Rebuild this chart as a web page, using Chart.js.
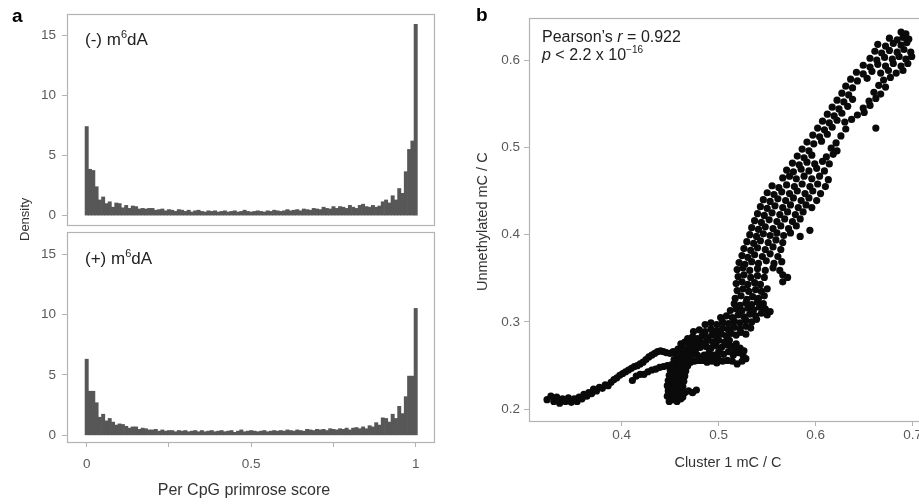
<!DOCTYPE html>
<html>
<head>
<meta charset="utf-8">
<script src="https://cdn.jsdelivr.net/npm/chart.js@4.4.1/dist/chart.umd.min.js"></script>
<style>
  html, body { margin: 0; padding: 0; background: #fff; width: 919px; height: 504px; overflow: hidden; }
  body { position: relative; font-family: "Liberation Sans", Arial, sans-serif; }
  canvas { position: absolute; }
  .t { position: absolute; white-space: nowrap; line-height: 1; color: #222; }
  .panel { font-weight: bold; font-size: 19px; color: #000; }
  .facet { font-size: 17px; }
  .facet sup { font-size: 11px; vertical-align: 7px; }
  .note { font-size: 16px; }
  .note sup { font-size: 10px; vertical-align: 7px; }
  .axt { font-size: 14.5px; color: #333; }
  .rot { transform-origin: 0 0; transform: rotate(-90deg); }
</style>
</head>
<body>
<canvas id="histTop" width="440" height="240" style="left:0;top:0"></canvas>
<canvas id="histBottom" width="440" height="260" style="left:0;top:216px"></canvas>
<canvas id="scatter" width="460" height="504" style="left:470px;top:0"></canvas>

<div class="t panel" style="left:12px;top:6px">a</div>
<div class="t panel" style="left:476px;top:5px">b</div>
<div class="t facet" style="left:85px;top:29px">(-) m<sup>6</sup>dA</div>
<div class="t facet" style="left:85px;top:248px">(+) m<sup>6</sup>dA</div>
<div class="t axt rot" style="left:18px;top:241px;font-size:13px">Density</div>
<div class="t axt" style="left:244px;top:482px;font-size:16px;transform:translateX(-50%)">Per CpG primrose score</div>
<div class="t note" style="left:542px;top:29px">Pearson’s <i>r</i> = 0.922</div>
<div class="t note" style="left:542px;top:45px"><i>p</i> &lt; 2.2 x 10<sup>−16</sup></div>
<div class="t axt rot" style="left:475px;top:291px">Unmethylated mC / C</div>
<div class="t axt" style="left:728px;top:455px;transform:translateX(-50%)">Cluster 1 mC / C</div>

<script>
// histogram bins (width 0.01), densities read per bin
const binMids = Array.from({ length: 101 }, (_, i) => i / 100);

const densityMinus = [
  7.4, 3.85, 3.75, 2.4, 1.3, 1.55, 1.0, 1.15, 0.7, 1.05,
  1.0, 0.65, 0.85, 0.6, 0.8, 0.75, 0.55, 0.6, 0.55, 0.6,
  0.6, 0.45, 0.5, 0.55, 0.4, 0.5, 0.45, 0.35, 0.5, 0.45,
  0.35, 0.45, 0.3, 0.4, 0.45, 0.35, 0.3, 0.4, 0.35, 0.4,
  0.3, 0.35, 0.4, 0.3, 0.35, 0.4, 0.3, 0.35, 0.45, 0.35,
  0.3, 0.35, 0.4, 0.35, 0.3, 0.4, 0.35, 0.45, 0.4, 0.35,
  0.4, 0.5, 0.4, 0.45, 0.5, 0.4, 0.55, 0.5, 0.45, 0.6,
  0.55, 0.5, 0.7, 0.6, 0.55, 0.75, 0.6, 0.75, 0.7, 0.6,
  0.85, 0.7, 0.6, 0.85, 0.95, 0.75, 0.7, 0.85, 0.7, 0.8,
  1.15, 1.3, 1.05, 1.65, 1.3, 2.25, 1.85, 3.65, 5.5, 6.2,
  15.9
];

const densityPlus = [
  6.3, 3.65, 3.65, 2.7, 1.5, 1.75, 1.2, 1.4, 1.1, 0.85,
  0.95, 0.9, 0.75, 0.6, 0.7, 0.7, 0.5, 0.6, 0.55, 0.45,
  0.45, 0.5, 0.35, 0.45, 0.35, 0.4, 0.4, 0.3, 0.4, 0.35,
  0.4, 0.3, 0.35, 0.4, 0.3, 0.4, 0.3, 0.35, 0.4, 0.3,
  0.35, 0.4, 0.3, 0.35, 0.4, 0.25, 0.35, 0.45, 0.3, 0.35,
  0.4, 0.35, 0.3, 0.35, 0.4, 0.3, 0.35, 0.4, 0.35, 0.4,
  0.35, 0.45, 0.4, 0.35, 0.45, 0.4, 0.35, 0.5, 0.45, 0.4,
  0.5, 0.45, 0.5, 0.4, 0.55, 0.5, 0.45, 0.55, 0.5, 0.6,
  0.45, 0.6, 0.65, 0.55, 0.7, 0.55, 0.8, 0.7, 1.05, 0.85,
  1.45, 1.4, 1.1, 1.75, 1.4, 2.4, 1.8, 3.2, 4.9, 4.9,
  10.5
];

const densityTicks = [0, 5, 10, 15];
const scoreTicks = [0, 0.25, 0.5, 0.75, 1];
const scoreLabels = ['0', '', '0.5', '', '1'];

// scatter: cluster 1 mC/C (x) vs unmethylated mC/C (y)
const lowerTail = [
  [0.323,0.211],[0.327,0.215],[0.330,0.209],[0.333,0.214],[0.336,0.207],[0.339,0.212],
  [0.342,0.209],[0.345,0.213],[0.348,0.208],[0.351,0.212],[0.354,0.209],[0.356,0.214],
  [0.359,0.212],[0.361,0.217],[0.364,0.215],[0.366,0.219],[0.369,0.218],[0.371,0.223],
  [0.374,0.221],[0.377,0.225],[0.380,0.224],[0.383,0.228],[0.386,0.227],[0.389,0.231],
  [0.392,0.234],[0.395,0.236],[0.398,0.239],[0.401,0.241],[0.404,0.243],[0.407,0.245],
  [0.410,0.247],[0.413,0.249],[0.416,0.250],[0.419,0.252],[0.422,0.254],[0.425,0.257],
  [0.428,0.260],[0.431,0.262],[0.434,0.264],[0.437,0.266],[0.440,0.267],[0.443,0.266],
  [0.446,0.265],[0.450,0.264],[0.453,0.266]
];

const lowerStrand = [
  [0.411,0.233],[0.415,0.238],[0.419,0.240],[0.423,0.240],[0.427,0.243],[0.431,0.245],
  [0.435,0.246],[0.439,0.248],[0.443,0.249],[0.447,0.250],[0.451,0.251],[0.455,0.252],
  [0.459,0.252],[0.463,0.253],[0.467,0.254],[0.471,0.254],[0.475,0.255],[0.479,0.256],
  [0.483,0.256],[0.487,0.257],[0.491,0.258],[0.495,0.258],[0.499,0.259]
];

const stem = [
  [0.449,0.209],[0.453,0.211],[0.457,0.209],[0.461,0.212],
  [0.447,0.215],[0.451,0.217],[0.455,0.214],[0.459,0.216],[0.463,0.214],
  [0.448,0.221],[0.452,0.223],[0.456,0.220],[0.460,0.222],[0.465,0.219],[0.469,0.221],[0.473,0.219],[0.477,0.222],
  [0.447,0.227],[0.451,0.229],[0.455,0.226],[0.459,0.228],[0.463,0.226],
  [0.448,0.233],[0.452,0.235],[0.456,0.232],[0.460,0.234],[0.464,0.232],
  [0.449,0.239],[0.453,0.241],[0.457,0.238],[0.461,0.240],[0.465,0.238],
  [0.450,0.245],[0.454,0.247],[0.458,0.244],[0.462,0.246],[0.466,0.244],
  [0.452,0.251],[0.456,0.253],[0.460,0.250],[0.464,0.252],[0.468,0.250],
  [0.454,0.257],[0.458,0.259],[0.462,0.256],[0.466,0.258],[0.470,0.256],
  [0.456,0.263],[0.460,0.265],[0.464,0.262],[0.468,0.264],[0.472,0.262],
  [0.458,0.269],[0.462,0.271],[0.466,0.268],[0.470,0.270],[0.474,0.268],[0.478,0.271],
  [0.461,0.275],[0.465,0.277],[0.469,0.274],[0.473,0.276],[0.477,0.274],[0.481,0.277]
];

const kinkBlob = [
  [0.485,0.262],[0.490,0.265],[0.495,0.262],[0.500,0.266],[0.505,0.263],[0.510,0.266],
  [0.515,0.262],[0.520,0.265],[0.525,0.262],[0.528,0.258],[0.524,0.255],[0.519,0.252],
  [0.514,0.255],[0.509,0.256],[0.504,0.255],[0.498,0.253],[0.493,0.255],[0.488,0.254],
  [0.482,0.258],[0.478,0.262],[0.476,0.268],[0.481,0.271],[0.487,0.272],[0.492,0.270],
  [0.497,0.273],[0.503,0.271],[0.508,0.274],[0.513,0.272],[0.518,0.275],[0.522,0.270],
  [0.526,0.267],[0.517,0.268],[0.511,0.279],[0.506,0.277],[0.500,0.279],[0.494,0.277],
  [0.489,0.279],[0.484,0.276]
];

const risingBand = [
  [0.468,0.281],[0.473,0.283],[0.478,0.281],[0.483,0.284],[0.488,0.282],[0.493,0.285],
  [0.498,0.283],[0.503,0.286],[0.508,0.284],[0.513,0.287],[0.518,0.285],[0.523,0.288],[0.528,0.286],
  [0.474,0.289],[0.480,0.291],[0.486,0.289],[0.492,0.292],[0.498,0.290],[0.504,0.293],
  [0.510,0.291],[0.516,0.294],[0.522,0.292],[0.528,0.295],[0.533,0.293],
  [0.486,0.297],[0.492,0.299],[0.498,0.297],[0.504,0.300],[0.510,0.298],[0.516,0.301],
  [0.522,0.299],[0.528,0.302],[0.534,0.300],[0.539,0.303],
  [0.502,0.305],[0.508,0.307],[0.514,0.305],[0.520,0.308],[0.526,0.306],[0.532,0.309],
  [0.538,0.307],[0.544,0.310],[0.550,0.308],
  [0.512,0.313],[0.518,0.315],[0.524,0.313],[0.530,0.316],[0.536,0.314],[0.542,0.317],
  [0.548,0.315],[0.553,0.312],
  [0.516,0.321],[0.522,0.319],[0.528,0.322],[0.534,0.320],[0.540,0.323],[0.546,0.321]
];

const midBody = [
  [0.517,0.327],[0.523,0.330],[0.529,0.326],[0.535,0.329],[0.541,0.327],[0.547,0.330],
  [0.519,0.336],[0.525,0.338],[0.531,0.335],[0.538,0.337],[0.544,0.335],[0.550,0.338],
  [0.518,0.344],[0.524,0.346],[0.530,0.343],[0.537,0.345],[0.543,0.343],[0.566,0.346],
  [0.520,0.352],[0.526,0.354],[0.533,0.351],[0.540,0.353],[0.547,0.351],[0.566,0.354],[0.571,0.351],
  [0.519,0.360],[0.525,0.362],[0.532,0.359],[0.540,0.361],[0.548,0.359],[0.556,0.362],[0.563,0.359],
  [0.521,0.368],[0.527,0.366],[0.534,0.369],[0.541,0.367],[0.549,0.370],[0.557,0.367],[0.565,0.369],
  [0.524,0.376],[0.530,0.374],[0.537,0.377],[0.545,0.375],[0.553,0.378],[0.561,0.375],
  [0.526,0.384],[0.533,0.382],[0.540,0.385],[0.548,0.383],[0.556,0.386],[0.564,0.383],
  [0.529,0.392],[0.536,0.390],[0.543,0.393],[0.551,0.391],[0.559,0.394],[0.566,0.391],
  [0.532,0.400],[0.539,0.398],[0.546,0.401],[0.553,0.399],[0.560,0.402],[0.567,0.399],[0.574,0.402],[0.584,0.398],
  [0.534,0.408],[0.541,0.406],[0.548,0.409],[0.556,0.407],[0.564,0.410],[0.572,0.407],[0.580,0.410],[0.594,0.405],
  [0.537,0.416],[0.544,0.414],[0.552,0.417],[0.560,0.415],[0.568,0.418],[0.576,0.415],[0.584,0.418],
  [0.540,0.424],[0.547,0.422],[0.555,0.425],[0.563,0.423],[0.571,0.426],[0.579,0.423],[0.587,0.426],
  [0.543,0.432],[0.550,0.430],[0.558,0.433],[0.566,0.431],[0.574,0.434],[0.582,0.431],[0.590,0.434],[0.596,0.431],
  [0.546,0.440],[0.553,0.438],[0.561,0.441],[0.569,0.439],[0.577,0.442],[0.585,0.439],[0.593,0.442],[0.601,0.439],
  [0.550,0.448],[0.557,0.446],[0.565,0.449],[0.573,0.447],[0.581,0.450],[0.589,0.447],[0.597,0.450],[0.605,0.447],
  [0.555,0.456],[0.562,0.454],[0.570,0.457],[0.578,0.455],[0.586,0.458],[0.594,0.455],[0.602,0.458],[0.610,0.455]
];

const upperLoop = [
  [0.566,0.465],[0.573,0.467],[0.580,0.464],[0.588,0.467],[0.596,0.464],[0.604,0.467],[0.613,0.463],
  [0.570,0.474],[0.577,0.472],[0.585,0.475],[0.593,0.473],[0.601,0.476],[0.609,0.473],
  [0.576,0.482],[0.583,0.480],[0.591,0.483],[0.599,0.481],[0.607,0.484],[0.614,0.481],
  [0.581,0.490],[0.588,0.488],[0.596,0.491],[0.611,0.489],[0.618,0.492],
  [0.586,0.498],[0.593,0.496],[0.616,0.499],[0.622,0.496],
  [0.591,0.506],[0.598,0.504],[0.606,0.507],[0.621,0.505],
  [0.597,0.514],[0.604,0.512],[0.612,0.515],[0.626,0.513],
  [0.602,0.522],[0.609,0.520],[0.617,0.523],[0.631,0.521],[0.662,0.522],
  [0.607,0.530],[0.614,0.528],[0.622,0.531],[0.630,0.529],[0.637,0.532],
  [0.612,0.538],[0.619,0.536],[0.627,0.539],[0.643,0.537],[0.650,0.540],
  [0.617,0.546],[0.624,0.544],[0.633,0.547],[0.649,0.545],[0.656,0.548],
  [0.622,0.554],[0.629,0.552],[0.638,0.555],[0.655,0.553],[0.662,0.556],
  [0.627,0.562],[0.634,0.560],[0.660,0.563],[0.667,0.561],
  [0.631,0.570],[0.638,0.568],[0.665,0.571],[0.672,0.569],
  [0.636,0.578],[0.643,0.576],[0.653,0.579],[0.670,0.577],[0.677,0.580],
  [0.642,0.586],[0.649,0.584],[0.658,0.587],[0.667,0.585],[0.675,0.588],[0.683,0.585],[0.690,0.588],
  [0.649,0.594],[0.656,0.592],[0.664,0.595],[0.672,0.593],[0.680,0.596],[0.688,0.593],[0.695,0.596],
  [0.656,0.602],[0.663,0.600],[0.671,0.603],[0.679,0.601],[0.686,0.604],[0.693,0.601],[0.699,0.604],
  [0.661,0.610],[0.668,0.608],[0.676,0.611],[0.684,0.609],[0.691,0.612],[0.698,0.609],
  [0.664,0.618],[0.672,0.616],[0.680,0.619],[0.688,0.617],[0.694,0.620],
  [0.676,0.625],[0.684,0.623],[0.690,0.626],[0.696,0.624],
  [0.688,0.632],[0.693,0.630]
];

const mcTicksX = [0.4, 0.5, 0.6, 0.7];
const mcTicksY = [0.2, 0.3, 0.4, 0.5, 0.6];

const FONT = '"Liberation Sans", Arial, sans-serif';
const tickGrey = '#5a5a5a';
const lineGrey = '#b3b3b3';

// grey frame round each plotting panel
const panelBox = {
  id: 'panelBox',
  afterDraw(chart) {
    const { ctx, chartArea: a } = chart;
    ctx.save();
    ctx.strokeStyle = lineGrey;
    ctx.lineWidth = 1.2;
    ctx.strokeRect(Math.round(a.left) + 0.5, Math.round(a.top) + 0.5,
      Math.round(a.right - a.left), Math.round(a.bottom - a.top));
    ctx.restore();
  }
};

function fixedTicks(values) {
  return (scale) => { scale.ticks = values.map(v => ({ value: v })); };
}

function histogram(id, values, yMin, yMax, pad, showX) {
  return new Chart(document.getElementById(id), {
    type: 'bar',
    data: {
      datasets: [{
        data: binMids.map((x, i) => ({ x: x, y: values[i] })),
        backgroundColor: '#575757',
        borderWidth: 0,
        barPercentage: 1,
        categoryPercentage: 1,
      }],
    },
    plugins: [panelBox],
    options: {
      responsive: false,
      animation: false,
      layout: { padding: pad },
      plugins: { legend: { display: false }, tooltip: { enabled: false } },
      scales: {
        x: {
          type: 'linear',
          display: showX,
          offset: false,
          min: -0.0599,
          max: 1.0556,
          afterBuildTicks: fixedTicks(scoreTicks),
          afterFit: (s) => { s.height = showX ? 34 : 0; },
          grid: { offset: false, drawOnChartArea: false, tickLength: 5, color: lineGrey },
          border: { display: false },
          ticks: {
            color: tickGrey,
            padding: 9,
            maxRotation: 0,
            font: { family: FONT, size: 13.5 },
            callback: (v, i) => scoreLabels[i],
          },
        },
        y: {
          min: yMin,
          max: yMax,
          afterBuildTicks: fixedTicks(densityTicks),
          afterFit: (s) => { s.width = 67; },
          grid: { drawOnChartArea: false, tickLength: 5, color: lineGrey },
          border: { display: false },
          ticks: { color: tickGrey, padding: 6, font: { family: FONT, size: 13.5 } },
        },
      },
    },
  });
}

histogram('histTop', densityMinus, -0.78, 16.74, { top: 14, right: 6, bottom: 15, left: 0 }, false);
histogram('histBottom', densityPlus, -0.55, 16.82, { top: 16, right: 6, bottom: 0, left: 0 }, true);

new Chart(document.getElementById('scatter'), {
  type: 'scatter',
  data: {
    datasets: [{
      data: [].concat(lowerTail, lowerStrand, stem, kinkBlob, risingBand, midBody, upperLoop)
        .map(p => ({ x: p[0], y: p[1] })),
      backgroundColor: '#0a0a0a',
      borderWidth: 0,
      pointRadius: 3.6,
    }],
  },
  plugins: [panelBox],
  options: {
    responsive: false,
    animation: false,
    layout: { padding: { top: 18, right: 8, bottom: 53, left: 0 } },
    plugins: { legend: { display: false }, tooltip: { enabled: false } },
    scales: {
      x: {
        type: 'linear',
        min: 0.3044,
        max: 0.7096,
        afterBuildTicks: fixedTicks(mcTicksX),
        afterFit: (s) => { s.height = 30; },
        grid: { drawOnChartArea: false, tickLength: 5, color: lineGrey },
        border: { display: false },
        ticks: {
          color: tickGrey,
          padding: 1,
          maxRotation: 0,
          font: { family: FONT, size: 13.5 },
          callback: (v) => v.toFixed(1),
        },
      },
      y: {
        min: 0.1866,
        max: 0.6481,
        afterBuildTicks: fixedTicks(mcTicksY),
        afterFit: (s) => { s.width = 59; },
        grid: { drawOnChartArea: false, tickLength: 5, color: lineGrey },
        border: { display: false },
        ticks: {
          color: tickGrey,
          padding: 4,
          font: { family: FONT, size: 13.5 },
          callback: (v) => v.toFixed(1),
        },
      },
    },
  },
});
</script>
</body>
</html>
